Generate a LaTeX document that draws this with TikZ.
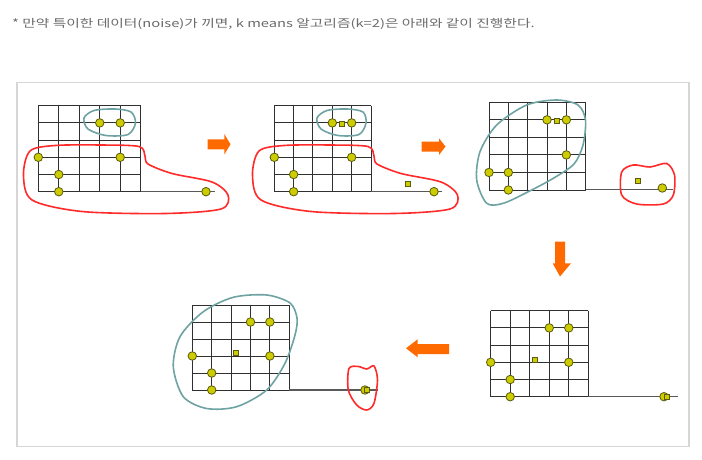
\documentclass[tikz,border=0pt]{standalone}
\usepackage{fontspec}
\newfontfamily\kr{Noto Sans CJK KR}
\definecolor{dotfill}{HTML}{CCCC00}
\definecolor{dotline}{HTML}{5A5A10}
\definecolor{tealc}{HTML}{6FA3A3}
\definecolor{redc}{HTML}{FF2A2A}
\definecolor{arrc}{HTML}{FF6A00}
\definecolor{framec}{HTML}{D6D6D6}
\definecolor{gridc}{HTML}{303030}
\tikzset{
  dot/.style={circle,draw=dotline,fill=dotfill,line width=0.8pt,minimum size=8.5pt,inner sep=0pt},
  sq/.style={rectangle,draw=dotline,fill=dotfill,line width=0.7pt,minimum size=5pt,inner sep=0pt},
  gridline/.style={draw=gridc,line width=1pt},
  tailline/.style={draw=gridc!80,line width=1.1pt},
  tealblob/.style={draw=tealc,line width=1.6pt},
  redblob/.style={draw=redc,line width=1.6pt},
  bigarrow/.style={fill=arrc},
}
% grid: x0, x1, y0, y1
\newcommand{\kgrid}[4]{%
  \foreach \i in {0,...,5}{%
    \draw[gridline] ({#1+\i*(#2-#1)/5},#3) -- ({#1+\i*(#2-#1)/5},#4);
    \draw[gridline] (#1,{#3+\i*(#4-#3)/5}) -- (#2,{#3+\i*(#4-#3)/5});
  }}
\begin{document}
\begin{tikzpicture}[x=1pt,y=-1pt]
\useasboundingbox (0,0) rectangle (702,460);
\fill[white] (0,0) rectangle (702,460);
\node[anchor=west,inner sep=0pt,text=black!58,font=\kr\fontsize{11}{13}\selectfont] (title) at (12,24) {\scalebox{1.34}[1]{* 만약 특이한 데이터(noise)가 끼면, k means 알고리즘(k=2)은 아래와 같이 진행한다.}};
\draw[framec,line width=1.2pt] (17,82.5) rectangle (689,446.5);

% ---------- panel 1 ----------
\kgrid{38.3}{140.7}{105.7}{191.7}
\draw[tailline] (140.7,191.7) -- (215,191.7);
\draw[tealblob] plot[smooth cycle] coordinates {(84,118) (94,110.5) (115,109) (131,112) (135.5,123) (128,134.5) (106,135.5) (88,129)};
\draw[redblob] plot[smooth cycle] coordinates {(30,151) (55,145.5) (100,145) (139,146.5) (145,156) (148,164) (172,173.5) (212,182) (228,195) (221,209) (165,213.5) (82,211.5) (32,200) (23.5,175)};
\foreach \c/\r [count=\k] in {3/1,4/1,0/3,4/3,1/4,1/5}{
  \node[dot] (a\k) at ({38.3+\c*20.48},{105.7+\r*17.2}) {};}
\node[dot] (a7) at (206,191.7) {};

\fill[bigarrow] (207.7,139.3) -- (224.3,139.3) -- (224.3,134) -- (230.5,144.3) -- (224.3,154.5) -- (224.3,149.3) -- (207.7,149.3) -- cycle;

% ---------- panel 2 ----------
\kgrid{274.3}{371}{105.7}{191.7}
\draw[tailline] (371,191.7) -- (442,191.7);
\draw[tealblob] plot[smooth cycle] coordinates {(317,118) (327,110.5) (347,109) (363,112) (366,123) (359,134.5) (338,135.5) (321,129)};
\draw[redblob] plot[smooth cycle] coordinates {(259,151) (284,145.5) (329,145) (368,146.5) (374,156) (377,164) (401,173.5) (441,182) (457.5,195) (450,209) (394,213.5) (311,211.5) (261,200) (252.5,175)};
\foreach \c/\r [count=\k] in {3/1,4/1,0/3,4/3,1/4,1/5}{
  \node[dot] (b\k) at ({274.3+\c*19.34},{105.7+\r*17.2}) {};}
\node[dot] (b7) at (434,191.7) {};
\node[sq] (bs1) at (341.7,124.1) {};
\node[sq] (bs2) at (407.7,183.7) {};

\fill[bigarrow] (421.7,141.5) -- (439,141.5) -- (439,138.3) -- (445.5,146.5) -- (439,155) -- (439,151.5) -- (421.7,151.5) -- cycle;

% ---------- panel 3 ----------
\kgrid{489}{585.7}{102.3}{190}
\draw[tailline] (585.7,189.5) -- (673,189.5);
\draw[tealblob] plot[smooth cycle] coordinates {(556.7,100) (578,105) (585.5,120) (583,145) (574,164) (553.3,178.3) (528.3,191.7) (503.3,203.3) (486.7,203.3) (476.7,180) (480,151.7) (496.7,125) (526.7,105)};
\draw[redblob] plot[smooth cycle] coordinates {(621.7,172) (633.3,165) (650,167) (666.7,163.5) (674.5,175) (673.3,195) (663.3,204) (636.7,204) (621.7,195)};
\foreach \c/\r [count=\k] in {3/1,4/1,4/3,0/4,1/4,1/5}{
  \node[dot] (c\k) at ({489+\c*19.34},{102.3+\r*17.54}) {};}
\node[sq] (cs1) at (556.4,120.4) {};
\node[dot] (c7) at (662.3,188) {};
\node[sq] (cs2) at (638.3,180.7) {};

\fill[bigarrow] (555,241.7) -- (565,241.7) -- (565,263.3) -- (571,263.3) -- (560,276.5) -- (552.7,263.3) -- (555,263.3) -- cycle;

% ---------- panel 4 ----------
\kgrid{490.7}{588.3}{310.7}{396.7}
\draw[tailline] (588.3,396.7) -- (678.3,396.7);
\foreach \c/\r [count=\k] in {3/1,4/1,0/3,4/3,1/4,1/5}{
  \node[dot] (d\k) at ({490.7+\c*19.52},{310.7+\r*17.2}) {};}
\node[sq] (ds1) at (535,360) {};
\node[dot] (d7) at (664,396.7) {};
\node[sq] (ds2) at (666.7,396.7) {};

\fill[bigarrow] (406,348.3) -- (417.7,339.3) -- (417.7,344) -- (449,344) -- (449,354) -- (417.7,354) -- (417.7,357.3) -- cycle;

% ---------- panel 5 ----------
\kgrid{192.3}{289.3}{305}{390}
\draw[tailline] (289.3,390) -- (378.3,390);
\draw[tealblob] plot[smooth cycle] coordinates {(266.7,295) (290,303) (297,318) (295,335) (285,363.3) (266.7,390) (236.7,406.7) (206.7,408.5) (183.3,396.7) (173.3,366.7) (180,336.7) (203.3,311.7) (233.3,297.3)};
\draw[redblob] plot[smooth cycle] coordinates {(349,368.5) (358.3,366.5) (366.7,369) (374,366) (377.5,380) (374,403.3) (366.7,410) (356.7,405) (348.3,390)};
\foreach \c/\r [count=\k] in {3/1,4/1,0/3,4/3,1/4,1/5}{
  \node[dot] (e\k) at ({192.3+\c*19.4},{305+\r*17}) {};}
\node[sq] (es1) at (236,353.3) {};
\node[dot] (e7) at (365,390) {};
\node[sq] (es2) at (367.3,390) {};
\end{tikzpicture}
\end{document}
